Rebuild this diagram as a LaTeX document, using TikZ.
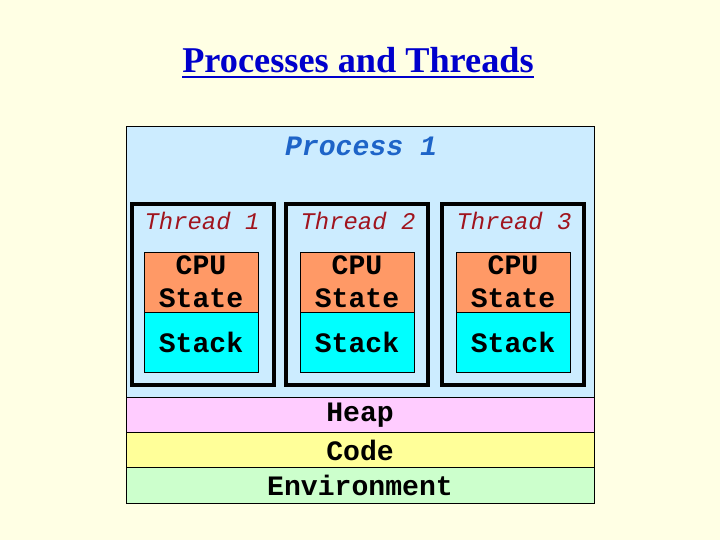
\documentclass[tikz,border=0pt]{standalone}
\usepackage{fontspec}
\setmainfont{Liberation Serif}
\setmonofont{Liberation Mono}
\usepackage{tikz}
\usetikzlibrary{positioning}
\definecolor{pagebg}{RGB}{255,255,228}
\definecolor{titleblue}{RGB}{0,0,204}
\definecolor{procblue}{RGB}{30,100,200}
\definecolor{procbg}{RGB}{204,236,255}
\definecolor{threadred}{RGB}{160,20,30}
\definecolor{cpubg}{RGB}{255,153,102}
\definecolor{stackbg}{RGB}{0,255,255}
\definecolor{heapbg}{RGB}{255,204,255}
\definecolor{codebg}{RGB}{255,255,153}
\definecolor{envbg}{RGB}{204,255,204}
\newcommand{\thickuline}[1]{%
  \setbox0\hbox{#1}\rlap{\rule[-4pt]{\wd0}{1.4pt}}\box0}
\tikzset{
  slidetitle/.style={
    font=\fontsize{25.8}{30}\selectfont\bfseries\color{titleblue},
    inner sep=0pt
  },
  procbox/.style={
    draw=black, fill=procbg, line width=0.6pt, outer sep=0pt,
    minimum width=11.7cm, minimum height=6.775cm
  },
  proclabel/.style={
    font=\ttfamily\fontsize{20}{24}\selectfont\bfseries\itshape\color{procblue},
    inner sep=0pt
  },
  threadbox/.style={
    draw=black, line width=2.8pt,
    minimum width=3.55cm, minimum height=4.525cm
  },
  threadlabel/.style={
    font=\ttfamily\fontsize{17}{20}\selectfont\itshape\color{threadred},
    inner sep=0pt
  },
  cpubox/.style={
    draw=black, fill=cpubg, line width=0.5pt, outer sep=0pt,
    minimum width=2.85cm, minimum height=1.5cm, align=center,
    inner sep=0pt,
    font=\ttfamily\fontsize{20}{23.4}\selectfont\bfseries
  },
  stackbox/.style={
    draw=black, fill=stackbg, line width=0.5pt, outer sep=0pt,
    minimum width=2.85cm, minimum height=1.5cm, align=center,
    inner sep=0pt,
    font=\ttfamily\fontsize{20}{24}\selectfont\bfseries
  },
  segbox/.style={
    draw=black, line width=0.6pt, outer sep=0pt,
    minimum width=11.7cm, minimum height=0.883cm, inner sep=0pt,
    font=\ttfamily\fontsize{20}{24}\selectfont\bfseries
  },
}
\begin{document}
\begin{tikzpicture}[x=0.025cm, y=-0.025cm]

  %% Page
  \fill[pagebg] (0,0) rectangle (720,540);
  \useasboundingbox (0,0) rectangle (720,540);

  \node[slidetitle] (title) at (358,63) {\thickuline{Processes and Threads}};

  %% Process
  \node[procbox] (proc) at (360,261.5) {};
  \node[proclabel] (proclbl) at (361,146) {Process 1};

  %% Threads
  \node[threadbox] (thr1) at (203,294.5) {};
  \node[threadbox] (thr2) at (357,294.5) {};
  \node[threadbox] (thr3) at (513,294.5) {};

  \node[threadlabel] (thr1lbl) at (202,221) {Thread 1};
  \node[threadlabel] (thr2lbl) at (358,221) {Thread 2};
  \node[threadlabel] (thr3lbl) at (514,221) {Thread 3};

  %% CPU state and stack of each thread
  \node[cpubox] (cpu1) at (201,282) {CPU\\State};
  \node[stackbox, below=0pt of cpu1] (stk1) {Stack};

  \node[cpubox] (cpu2) at (357,282) {CPU\\State};
  \node[stackbox, below=0pt of cpu2] (stk2) {Stack};

  \node[cpubox] (cpu3) at (513,282) {CPU\\State};
  \node[stackbox, below=0pt of cpu3] (stk3) {Stack};

  %% Shared segments
  \node[segbox, fill=heapbg, below=0pt of proc] (heap) {Heap};
  \node[segbox, fill=codebg, below=0pt of heap] (code) {Code};
  \node[segbox, fill=envbg, below=0pt of code] (env) {Environment};

\end{tikzpicture}
\end{document}
